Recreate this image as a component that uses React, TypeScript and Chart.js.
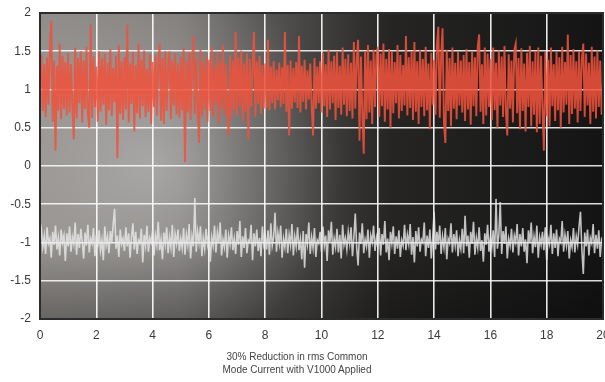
import { useEffect, useRef } from 'react';
import { Chart, registerables } from 'chart.js';

Chart.register(...registerables);

// Sampled signal values, x runs 0 → 20 evenly across each array
const RED_SIGNAL: number[] = [
  1.08,1.45,0.72,1.33,0.64,1.42,0.80,1.52,1.90,0.58,1.38,0.20,1.31,0.72,1.60,0.61,1.44,0.75,1.36,0.66,
  1.48,0.70,1.33,0.79,0.35,1.55,0.62,1.41,0.82,1.50,0.57,1.38,0.75,1.56,0.68,0.50,1.85,0.63,1.43,0.77,
  1.30,0.58,1.50,0.71,1.40,0.80,1.47,0.54,1.35,0.73,1.53,0.65,1.28,0.83,1.44,0.10,1.58,0.68,1.37,0.60,
  1.42,0.74,1.85,0.57,1.34,0.81,1.49,0.45,1.32,0.69,1.60,0.62,1.39,0.78,1.51,0.64,1.27,0.71,1.46,0.55,
  1.36,0.77,1.45,0.66,1.33,1.60,0.59,1.41,0.55,1.50,0.72,1.29,1.50,0.61,1.38,0.79,1.47,0.67,1.34,0.63,
  1.43,0.73,1.54,0.05,1.37,0.70,1.49,0.60,1.32,1.70,0.68,1.40,0.80,0.30,1.52,0.65,1.35,0.74,1.44,0.58,
  1.39,0.72,1.56,0.64,1.30,0.82,1.48,0.56,1.36,0.75,1.58,0.67,1.33,0.79,0.40,1.45,0.62,1.38,0.73,1.75,
  0.66,1.42,0.78,1.51,0.59,1.34,0.71,1.47,0.35,1.40,0.77,1.28,1.75,0.64,1.37,0.81,1.44,0.68,1.32,0.75,
  1.34,0.76,1.65,0.73,1.30,0.82,1.37,0.74,1.26,0.86,1.35,0.77,1.29,0.81,1.75,0.71,1.32,0.40,1.38,0.75,
  1.28,0.83,1.36,0.76,1.70,0.70,1.31,0.84,1.39,0.74,1.25,0.87,1.34,0.78,0.40,1.41,0.75,1.30,0.82,1.37,
  0.70,1.48,0.78,1.33,0.64,1.52,0.74,1.37,0.82,1.44,0.60,1.50,0.76,1.31,0.67,1.55,0.80,1.40,0.65,1.46,
  0.72,1.35,0.62,1.62,0.75,1.39,1.65,0.33,1.43,0.68,0.16,1.50,0.61,1.58,0.70,1.38,0.55,1.52,0.77,1.44,
  1.56,0.64,1.47,0.78,1.60,0.58,1.40,0.74,1.53,0.50,1.49,0.69,1.36,0.82,1.58,0.62,1.45,0.72,1.32,0.79,
  1.70,0.66,1.42,0.76,1.50,0.60,1.62,0.71,1.37,0.55,1.52,0.77,1.40,0.65,1.56,0.73,1.34,0.48,1.48,0.80,
  1.39,0.67,1.58,1.82,0.63,1.44,1.80,0.56,0.30,1.52,0.72,1.41,0.52,1.55,0.75,1.35,0.61,1.49,0.79,1.38,
  0.70,1.45,0.59,1.53,0.74,1.36,0.54,1.50,0.78,1.42,0.65,1.56,1.72,0.71,1.33,0.55,1.55,0.66,1.47,0.77,
  1.40,0.60,1.55,0.73,1.35,0.50,1.51,0.79,1.43,0.64,1.57,0.71,0.40,1.46,0.75,1.38,0.57,1.52,1.60,0.69,
  1.41,0.48,1.54,0.72,1.34,0.45,1.48,0.77,1.57,0.52,1.37,0.67,1.50,0.44,1.55,0.55,1.44,0.74,0.20,1.50,
  0.65,1.39,0.52,1.55,0.78,1.33,0.59,1.49,0.73,1.42,0.50,1.56,0.70,1.36,0.80,1.72,0.55,1.45,0.68,1.53,
  0.75,1.37,0.57,1.50,0.72,1.40,1.60,0.64,1.47,0.79,1.35,0.55,1.56,0.71,1.43,0.62,1.51,0.77,1.38,0.67,
  1.10,
];

const WHITE_SIGNAL: number[] = [
  -0.98,-0.84,-1.06,-0.92,-1.15,-0.80,-1.01,-0.95,-1.20,-0.86,-1.03,-0.78,-1.09,-0.94,-1.17,-0.83,-1.00,-0.91,-1.24,-0.88,
  -1.05,-0.79,-1.12,-0.93,-1.02,-0.74,-1.16,-0.89,-1.07,-0.82,-0.99,-1.21,-0.87,-1.04,-0.77,-1.13,-0.95,-1.01,-0.81,-1.18,
  -0.90,-1.06,-0.84,-1.10,-0.97,-1.23,-0.79,-1.03,-0.92,-1.14,-0.85,-1.00,-0.76,-0.56,-1.08,-0.91,-1.19,-0.83,-1.02,-0.95,
  -1.11,-0.80,-1.05,-0.88,-1.20,-0.93,-0.75,-1.09,-0.86,-1.15,-0.97,-1.01,-0.82,-1.26,-0.90,-1.04,-0.78,-1.12,-0.94,-1.00,
  -0.84,-1.17,-0.91,-1.03,-0.73,-1.10,-0.96,-1.22,-0.87,-1.02,-0.80,-1.14,-0.93,-1.06,-0.77,-1.19,-0.89,-1.01,-0.83,-1.11,
  -0.95,-1.07,-0.81,-1.16,-0.90,-1.03,-0.76,-1.21,-0.92,-1.05,-0.42,-1.12,-0.86,-1.00,-0.79,-1.18,-0.94,-1.08,-0.82,-1.02,
  -0.89,-1.25,-0.93,-1.04,-0.78,-1.13,-0.87,-1.01,-0.74,-1.17,-0.96,-1.06,-0.83,-1.20,-0.91,-1.02,-0.80,-1.10,-0.95,-1.15,
  -0.85,-1.03,-0.72,-1.19,-0.92,-1.07,-0.81,-1.14,-0.97,-1.00,-0.77,-1.23,-0.88,-1.05,-0.83,-1.11,-0.94,-1.18,-0.79,-1.02,
  -0.91,-1.09,-0.84,-1.16,-0.75,-1.04,-0.93,-0.61,-1.12,-0.87,-1.01,-0.78,-1.20,-0.95,-1.06,-0.82,-1.14,-0.90,-1.03,-0.76,
  -1.17,-0.92,-1.05,-0.80,-1.10,-0.96,-1.22,-0.85,-1.33,-0.89,-1.02,-0.74,-1.15,-0.93,-1.07,-0.81,-1.19,-0.97,-1.01,-0.86,
  -1.12,-0.79,-1.04,-0.91,-1.24,-0.84,-1.00,-0.73,-1.16,-0.95,-1.06,-0.82,-1.13,-0.90,-1.21,-0.77,-1.03,-0.94,-1.09,-0.86,
  -1.01,-0.80,-1.18,-0.93,-0.62,-1.07,-1.30,-0.87,-1.02,-0.75,-1.14,-0.96,-1.05,-0.83,-1.20,-0.91,-1.00,-0.78,-1.11,-0.94,
  -1.06,-0.81,-1.17,-0.89,-1.03,-0.72,-1.13,-0.95,-1.23,-0.86,-1.01,-0.79,-1.15,-0.92,-1.08,-0.84,-1.19,-0.97,-1.04,-0.77,
  -1.10,-0.90,-1.02,-0.76,-1.16,-0.93,-1.26,-0.85,-1.05,-0.80,-1.12,-0.96,-1.00,-0.74,-1.18,-0.91,-1.07,-0.83,-1.21,-0.94,
  -0.60,-1.09,-0.86,-1.03,-0.78,-1.15,-0.92,-1.06,-0.81,-1.22,-0.95,-1.01,-0.75,-1.13,-0.89,-1.04,-0.84,-1.18,-0.97,-1.08,
  -0.82,-1.14,-0.65,-1.05,-0.91,-1.20,-0.86,-1.02,-0.73,-1.16,-0.94,-1.07,-0.80,-1.11,-0.97,-1.25,-0.88,-1.03,-0.77,-1.12,
  -0.93,-1.06,-0.84,-1.19,-0.43,-1.08,-0.90,-0.47,-1.15,-0.85,-1.02,-0.79,-1.21,-0.95,-1.04,-0.82,-1.13,-0.91,-1.00,-0.76,
  -1.17,-0.89,-1.05,-0.81,-1.12,-0.96,-1.27,-0.84,-1.01,-0.74,-1.14,-0.92,-1.06,-0.78,-1.20,-0.93,-1.03,-0.86,-1.10,-0.80,
  -1.23,-0.94,-1.02,-0.77,-1.15,-0.88,-1.07,-0.83,-1.18,-0.95,-1.00,-0.72,-1.12,-0.90,-1.04,-0.85,-1.21,-0.97,-1.06,-0.81,
  -1.13,-0.92,-1.03,-0.79,-0.60,-1.10,-1.41,-0.87,-1.05,-0.83,-1.17,-0.94,-1.01,-0.76,-1.14,-0.90,-1.08,-0.84,-1.19,-0.96,
  -1.00,
];

const X_MIN = 0;
const X_MAX = 20;
const X_TICKS = [0, 2, 4, 6, 8, 10, 12, 14, 16, 18, 20];
const Y_TICKS = [-2, -1.5, -1, -0.5, 0, 0.5, 1, 1.5, 2];
const CAPTION = ['30% Reduction in rms Common', 'Mode Current with V1000 Applied'];

function toPoints(values: number[]) {
  const n = values.length - 1;
  return values.map((v, i) => ({ x: X_MIN + ((X_MAX - X_MIN) * i) / n, y: v }));
}

const backgroundPlugin = {
  id: 'plotBackground',
  beforeDraw(chart: any) {
    const { ctx, chartArea } = chart;
    if (!chartArea) return;
    const { left, top, right, bottom } = chartArea;
    const w = right - left;
    const h = bottom - top;
    ctx.save();
    const lin = ctx.createLinearGradient(left, 0, right, 0);
    lin.addColorStop(0, '#8f8c89');
    lin.addColorStop(0.25, '#7c7977');
    lin.addColorStop(0.47, '#474644');
    lin.addColorStop(0.62, '#262524');
    lin.addColorStop(1, '#141414');
    ctx.fillStyle = lin;
    ctx.fillRect(left, top, w, h);

    const cx = left + w * 0.2;
    const cy = top + h * 0.5;
    const rad = ctx.createRadialGradient(cx, cy, 0, cx, cy, 190);
    rad.addColorStop(0, 'rgba(255,255,255,0.32)');
    rad.addColorStop(0.5, 'rgba(255,255,255,0.15)');
    rad.addColorStop(1, 'rgba(255,255,255,0)');
    ctx.fillStyle = rad;
    ctx.fillRect(left, top, w, h);

    const vert = ctx.createLinearGradient(0, top + h * 0.75, 0, bottom);
    vert.addColorStop(0, 'rgba(0,0,0,0)');
    vert.addColorStop(1, 'rgba(0,0,0,0.28)');
    ctx.fillStyle = vert;
    ctx.fillRect(left, top + h * 0.75, w, h * 0.25);
    ctx.restore();
  },
  afterDatasetsDraw(chart: any) {
    const { ctx, chartArea } = chart;
    const { left, top, right, bottom } = chartArea;
    ctx.save();
    ctx.strokeStyle = '#2c2c2c';
    ctx.lineWidth = 2;
    ctx.strokeRect(left, top, right - left, bottom - top);
    ctx.restore();
  },
};

export default function App() {
  const canvasRef = useRef<HTMLCanvasElement | null>(null);

  useEffect(() => {
    if (!canvasRef.current) return;
    const tickFont = { family: '"Liberation Sans", Arial, sans-serif', size: 12 };
    const chart = new Chart(canvasRef.current, {
      type: 'line',
      data: {
        datasets: [
          {
            label: 'Without V1000',
            data: toPoints(RED_SIGNAL),
            borderColor: 'rgba(238,82,60,0.88)',
            borderWidth: 1.9,
            pointRadius: 0,
            tension: 0,
          },
          {
            label: 'With V1000',
            data: toPoints(WHITE_SIGNAL),
            borderColor: 'rgba(232,232,232,0.82)',
            borderWidth: 1.6,
            pointRadius: 0,
            tension: 0,
          },
        ],
      },
      plugins: [backgroundPlugin],
      options: {
        animation: false,
        responsive: false,
        layout: { padding: { left: 0, top: 13, right: 7, bottom: 43 } },
        plugins: {
          legend: { display: false },
          tooltip: { enabled: false },
          title: { display: false },
        },
        scales: {
          x: {
            type: 'linear',
            min: X_MIN,
            max: X_MAX,
            afterBuildTicks: (scale: any) => {
              scale.ticks = X_TICKS.map((v) => ({ value: v }));
            },
            afterFit: (scale: any) => {
              scale.height = 20;
              scale.paddingLeft = 0;
              scale.paddingRight = 0;
            },
            grid: {
              color: 'rgba(255,255,255,0.9)',
              lineWidth: 1.6,
              drawTicks: false,
            },
            border: { display: false },
            ticks: {
              color: '#3a3a3a',
              font: tickFont,
              padding: 9,
              maxRotation: 0,
              autoSkip: false,
              callback: (v: any) => String(v),
            },
          },
          y: {
            type: 'linear',
            min: -2,
            max: 2,
            afterBuildTicks: (scale: any) => {
              scale.ticks = Y_TICKS.map((v) => ({ value: v }));
            },
            afterFit: (scale: any) => {
              scale.width = 40;
              scale.paddingTop = 0;
              scale.paddingBottom = 0;
            },
            grid: {
              color: 'rgba(255,255,255,0.85)',
              lineWidth: 1.6,
              drawTicks: false,
            },
            border: { display: false },
            ticks: {
              color: '#3a3a3a',
              font: tickFont,
              padding: 9,
              autoSkip: false,
              callback: (v: any) => String(v),
            },
          },
        },
      },
    } as any);
    return () => chart.destroy();
  }, []);

  return (
    <div
      style={{
        position: 'fixed',
        left: 0,
        top: 0,
        width: 605,
        height: 382,
        overflow: 'hidden',
        background: '#ffffff',
      }}
    >
      <canvas ref={canvasRef} width={610} height={382} style={{ display: 'block' }} />
      <div
        style={{
          position: 'absolute',
          left: 0,
          top: 350,
          width: 594,
          textAlign: 'center',
          fontFamily: '"Liberation Sans", Arial, sans-serif',
          fontSize: 10,
          lineHeight: '13px',
          color: '#444444',
        }}
      >
        {CAPTION.map((line) => (
          <div key={line}>{line}</div>
        ))}
      </div>
    </div>
  );
}
